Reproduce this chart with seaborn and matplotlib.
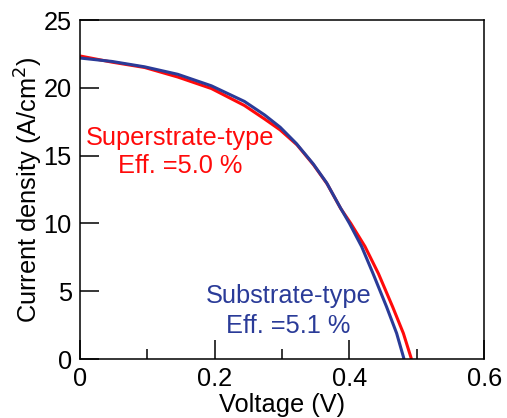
import matplotlib.pyplot as plt
import pandas as pd
import seaborn as sns
from matplotlib.ticker import MultipleLocator

# J-V curves
voltage_super = [0.0, 0.047, 0.096, 0.145, 0.195, 0.244, 0.274, 0.297, 0.322, 0.347, 0.367,
                 0.387, 0.402, 0.423, 0.443, 0.464, 0.480, 0.492]
current_super = [22.35, 21.9, 21.5, 20.8, 19.95, 18.7, 17.7, 16.9, 15.8, 14.3, 12.9,
                 11.1, 10.0, 8.3, 6.3, 3.86, 1.9, 0.0]
voltage_sub = [0.0, 0.047, 0.096, 0.145, 0.195, 0.244, 0.274, 0.297, 0.321, 0.346, 0.366,
               0.386, 0.400, 0.418, 0.435, 0.455, 0.470, 0.481]
current_sub = [22.2, 21.95, 21.55, 21.0, 20.15, 19.0, 18.0, 17.1, 15.9, 14.4, 13.0,
               11.2, 10.0, 8.3, 6.3, 3.86, 1.9, 0.0]

labels = ["Superstrate-type", "Substrate-type"]
efficiencies = ["5.0", "5.1"]
colors = ["#ff0a0a", "#2a3b98"]

x_ticks = [0, 0.2, 0.4, 0.6]
x_tick_labels = ["0", "0.2", "0.4", "0.6"]
y_ticks = [0, 5, 10, 15, 20, 25]


def main():
    df = pd.concat([
        pd.DataFrame({"V": voltage_super, "J": current_super, "type": labels[0]}),
        pd.DataFrame({"V": voltage_sub, "J": current_sub, "type": labels[1]}),
    ])

    sns.set_style("ticks")
    plt.rcParams["font.family"] = ["Liberation Sans", "DejaVu Sans"]
    plt.rcParams["text.color"] = "black"
    plt.rcParams["axes.labelcolor"] = "black"
    plt.rcParams["xtick.color"] = "black"
    plt.rcParams["ytick.color"] = "black"

    fs = 18.3
    fig = plt.figure(figsize=(5.07, 4.18), dpi=100)
    ax = fig.add_axes([0.158, 0.141, 0.797, 0.811])

    sns.lineplot(
        data=df, x="V", y="J", hue="type", palette=colors,
        sort=False, estimator=None, linewidth=2.2, legend=False, ax=ax,
        solid_joinstyle="round", solid_capstyle="butt",
    )

    ax.set_xlim(0, 0.6)
    ax.set_ylim(0, 25)
    ax.set_xticks(x_ticks)
    ax.set_xticklabels(x_tick_labels)
    ax.set_yticks(y_ticks)
    ax.xaxis.set_minor_locator(MultipleLocator(0.1))
    ax.tick_params(which="major", direction="in", length=14, width=1.1,
                   labelsize=fs, pad=6)
    ax.tick_params(which="minor", direction="in", length=7, width=1.1)
    ax.tick_params(axis="y", which="minor", length=0)
    for s in ax.spines.values():
        s.set_linewidth(1.1)
        s.set_color("black")

    ax.set_xlabel("Voltage (V)", fontsize=fs, labelpad=1)
    ax.set_ylabel("Current density (A/cm$^2$)", fontsize=fs, labelpad=-1)

    ax.text(0.148, 15.78, labels[0], color=colors[0], fontsize=fs, ha="center", va="baseline")
    ax.text(0.148, 13.72, f"Eff. ={efficiencies[0]} %", color=colors[0], fontsize=fs,
            ha="center", va="baseline")
    ax.text(0.309, 4.13, labels[1], color=colors[1], fontsize=fs, ha="center", va="baseline")
    ax.text(0.309, 1.92, f"Eff. ={efficiencies[1]} %", color=colors[1], fontsize=fs,
            ha="center", va="baseline")

    fig.savefig("out.png", dpi=100)


if __name__ == "__main__":
    main()
